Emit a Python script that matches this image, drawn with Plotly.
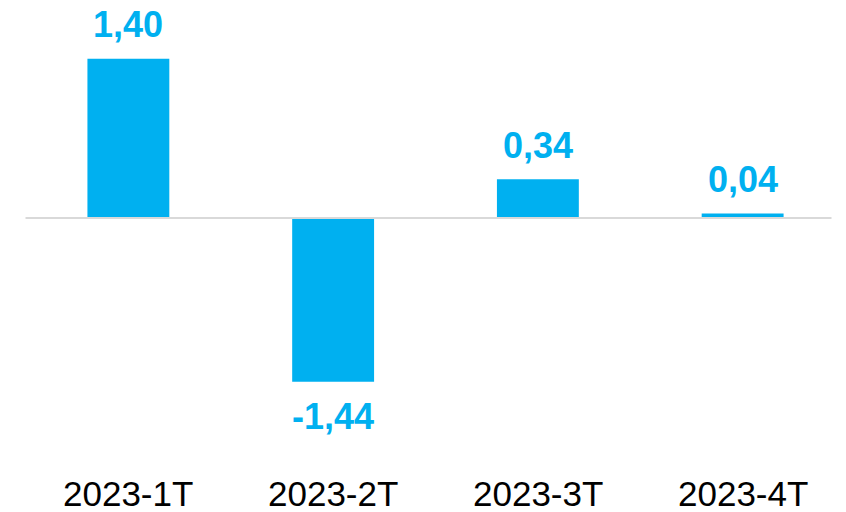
import plotly.graph_objects as go

categories = ["2023-1T", "2023-2T", "2023-3T", "2023-4T"]
values = [1.40, -1.44, 0.34, 0.04]
value_labels = ["1,40", "-1,44", "0,34", "0,04"]

BLUE = "#00B0F0"

fig = go.Figure()
fig.add_trace(go.Bar(
    x=categories, y=values, marker=dict(color=BLUE, line=dict(width=0)),
    width=0.4, hoverinfo="skip",
))

annotations = []
for c, v, t in zip(categories, values, value_labels):
    annotations.append(dict(
        x=c, y=v, xref="x", yref="y", text=t, showarrow=False,
        yshift=34 if v >= 0 else -35, yanchor="middle",
        font=dict(family="Liberation Sans, Arial", size=36, color=BLUE, weight="bold"),
    ))
    annotations.append(dict(
        x=c, y=-2.4165, xref="x", yref="y", text=c, showarrow=False,
        yanchor="middle",
        font=dict(family="Liberation Sans, Arial", size=35, color="#000000"),
    ))

fig.add_shape(type="line", xref="paper", yref="y", x0=-0.0006, x1=0.9835, y0=0, y1=0,
              line=dict(color="#D9D9D9", width=2), layer="above")

fig.update_layout(
    width=838, height=504,
    margin=dict(l=17.5, r=0.5, t=0, b=0),
    paper_bgcolor="white", plot_bgcolor="white",
    showlegend=False,
    annotations=annotations,
    xaxis=dict(visible=False, range=[-0.5, 3.5]),
    yaxis=dict(visible=False, range=[-2.5835, 1.8453]),
)

fig.write_html("out.html")
